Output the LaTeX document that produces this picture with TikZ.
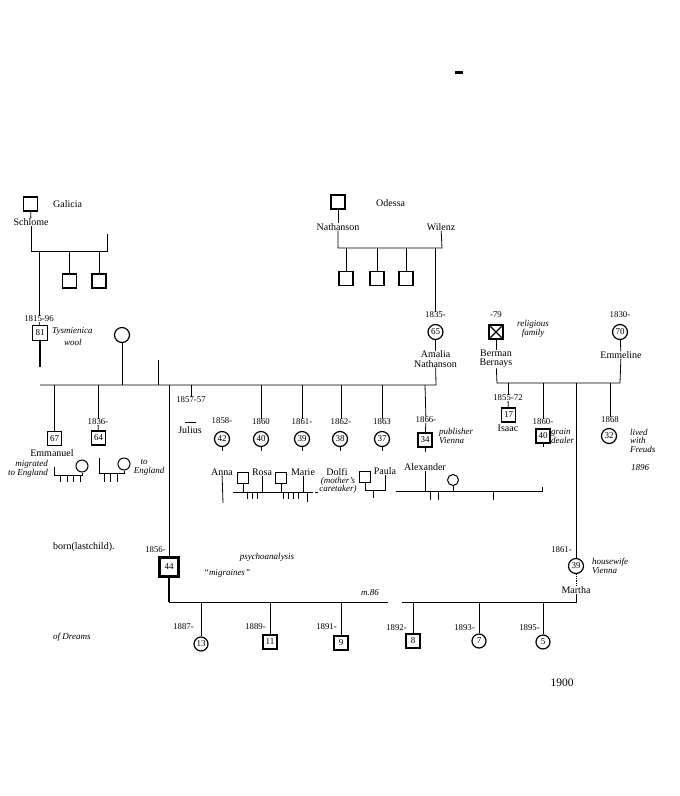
\documentclass[tikz,border=0pt]{standalone}
\usepackage{fontspec}
\setmainfont{Liberation Serif}
\begin{document}
\begin{tikzpicture}[x=1pt,y=-1pt,
  ln/.style={line width=0.8pt},
  male/.style={draw, rectangle, minimum size=14pt, inner sep=0pt, line width=1.1pt, font=\fontsize{9}{9}\selectfont},
  fem/.style={draw, circle, minimum size=15pt, inner sep=0pt, line width=1.2pt, font=\fontsize{9}{9}\selectfont},
  sp/.style={draw, rectangle, minimum size=11pt, inner sep=0pt, line width=1pt},
  spf/.style={draw, circle, minimum size=12pt, inner sep=0pt, line width=1pt},
  nm/.style={inner sep=0pt, align=center, font=\fontsize{10}{9.5}\selectfont},
  yr/.style={inner sep=0pt, font=\fontsize{8.8}{8.8}\selectfont},
  note/.style={inner sep=0pt, align=left, font=\fontsize{9}{8.5}\selectfont\itshape},
  tick/.style={line width=0.8pt}
]
\useasboundingbox (0,0) rectangle (680,796);
\fill (455,71) rectangle (463,74);

% ---------- Galicia / Schlome ----------
\node[male] (gal) at (30.5,204) {};
\node[nm, anchor=west] (galT) at (53,204) {Galicia};
\node[nm] (schl) at (31,222) {Schlome};
\coordinate (gsL) at (31,251);
\coordinate (gsR) at (107,251);
\coordinate (gsU) at (107,234);
\draw[ln] (gal) -- (schl);
\draw[ln] (schl) -- (gsL) -- (gsR) -- (gsU);
\node[male] (g1) at (69.5,281) {};
\node[male] (g2) at (99,281) {};
\draw[ln] (g1) -- (g1 |- gsL);
\draw[ln] (g2) -- (g2 |- gsL);

% ---------- Jacob ----------
\node[yr] (jy) at (39,319) {1815-96};
\node[male, line width=1.8pt, minimum size=15pt] (jac) at (40,333) {81};
\node[note, anchor=west] (tys) at (52,331) {Tysmienica};
\node[note, anchor=west] (wool) at (64,342) {wool};
\draw[ln] (jy.north |- gsL) -- (jy);
\draw[ln] (jy) -- (jac);
\coordinate (jacE) at (40,367);
\draw[line width=1.3pt] (jac) -- (jacE);
\node[fem] (jw1) at (122,335) {};
\coordinate (mL) at (40,385);
\coordinate (mR) at (436,385);
\coordinate (m158) at (158,360);
\draw[ln] (jw1) -- (jw1 |- mL);
\draw[ln] (m158) -- (m158 |- mL);

% ---------- Nathanson / Odessa ----------
\node[male] (nat0) at (338,202) {};
\node[nm, anchor=west] (ode) at (376,203) {Odessa};
\node[nm] (nat) at (338,227) {Nathanson};
\node[nm] (wil) at (441,227) {Wilenz};
\coordinate (nsL) at (338,248);
\coordinate (nsR) at (442,248);
\draw[ln] (nat0) -- (nat);
\draw[ln] (nat) -- (nsL) -- (nsR) -- (wil);
\node[male] (n1) at (346,278.5) {};
\node[male] (n2) at (377,278.5) {};
\node[male] (n3) at (406,278.5) {};
\draw[ln] (n1) -- (n1 |- nsL);
\draw[ln] (n2) -- (n2 |- nsL);
\draw[ln] (n3) -- (n3 |- nsL);

% ---------- Amalia ----------
\node[yr] (ay) at (435.5,315) {1835-};
\node[fem] (ama) at (435.5,332) {65};
\node[nm] (amaT) at (435.5,359) {Amalia\\Nathanson};
\draw[ln] (ay.north |- nsL) -- (ay);
\draw[line width=1.3pt] (ama) -- (amaT);
\draw[ln] (amaT) -- (mR) -- (mL);

% ---------- Bernays ----------
\node[yr] (by) at (496,315) {-79};
\node[male, path picture={\draw (path picture bounding box.north west) -- (path picture bounding box.south east) (path picture bounding box.north east) -- (path picture bounding box.south west);}] (ber) at (496,332) {};
\node[nm] (berT) at (496,359) {Berman\\Bernays};
\node[note, align=center] (rel) at (533,329) {religious\\family};
\node[yr] (ey) at (620,315) {1830-};
\node[fem] (emm) at (620,332) {70};
\node[nm] (emmT) at (621,355) {Emmeline};
\coordinate (bL) at (497,383);
\coordinate (bR) at (620,383);
\draw[ln] (ber) -- (berT);
\draw[ln] (emm) -- (emmT);
\draw[ln] (berT) -- (bL) -- (bR) -- (emmT);

% Bernays children
\node[yr] (iy) at (508,398) {1855-72};
\node[male] (isa) at (508.5,415) {17};
\node[nm] (isaT) at (508,428) {Isaac};
\draw[ln] (iy.north |- bL) -- (iy);
\draw[ln] (iy) -- (isa);
\node[yr] (ely) at (543,422) {1860-};
\node[male] (eli) at (543,436) {40};
\node[note, anchor=west] (grain) at (551,436) {grain\\dealer};
\draw[ln] (ely.north |- bL) -- (ely);
\coordinate (eliE) at (543,447);
\draw[ln] (eli) -- (eliE);
\node[yr, anchor=east] (my) at (572,550) {1861-};
\node[fem] (mar) at (576,566) {39};
\node[note, anchor=west] (hw) at (592,566) {housewife\\Vienna};
\node[nm] (marT) at (576,590) {Martha};
\draw[ln] (mar.north |- bL) -- (mar);
\draw[ln, densely dotted] (mar) -- (marT);
\node[yr] (miy) at (610,420) {1868};
\node[fem] (min) at (609,436) {32};
\node[note, anchor=north west] (lived) at (630,429) {lived\\with\\Freuds};
\node[note, anchor=west] (y96) at (631,468) {1896};
\draw[ln] (miy.north |- bL) -- (miy);

% ---------- Jacob's first marriage children ----------
\node[male] (e67) at (54.5,438.5) {67};
\node[nm] (emT) at (52,453) {Emmanuel};
\node[note, anchor=east, align=right] (mig) at (48,469) {migrated\\to England};
\draw[ln] (e67.north |- mL) -- (e67);
\coordinate (ef1) at (54,467);
\coordinate (ef2) at (54,475);
\coordinate (ef3) at (82,475);
\node[spf] (emw) at (82,466) {};
\draw[ln] (ef1) -- (ef2) -- (ef3) -- (emw);
\foreach \x in {60,67,73,80} \draw[tick] (\x,475) -- (\x,482);

\node[yr] (py) at (98,422) {1836-};
\node[male] (p64) at (98.5,438) {64};
\draw[ln] (py.north |- mL) -- (py);
\draw[ln] (py) -- (p64);
\coordinate (pf1) at (99,458);
\coordinate (pf2) at (99,473);
\coordinate (pf3) at (124,473);
\node[spf] (pw) at (124,464) {};
\draw[ln] (pf1) -- (pf2) -- (pf3) -- (pw);
\foreach \x in {104,110,117} \draw[tick] (\x,473) -- (\x,482);
\node[note] (to) at (144,462) {to};
\node[note] (eng) at (149,471) {England};

% ---------- Amalia's children ----------
\node[yr] (juy) at (191,400) {1857-57};
\draw[ln] (juy.north |- mL) -- (juy);
\coordinate (juA) at (185,422);
\coordinate (juB) at (196,422);
\draw[ln] (juA) -- (juB);
\node[nm] (jul) at (190,430) {Julius};

\node[yr, anchor=east] (sy) at (166,550) {1856-};
\node[draw, rectangle, minimum size=19pt, inner sep=0pt, line width=2.8pt, font=\fontsize{9}{9}\selectfont] (sig) at (169,567) {44};
\draw[ln] (sig.north |- mL) -- (sig);
\node[nm, anchor=west] (born) at (53,547) {born(lastchild).};
\node[note] (psy) at (267,557) {psychoanalysis};
\node[note] (migr) at (227,573) {``migraines''};
\node[note, anchor=west] (dreams) at (53,637) {of Dreams};

\node[yr] (any) at (222,421) {1858-};
\node[fem] (ann) at (222,439) {42};
\node[yr] (roy) at (261,422) {1860};
\node[fem] (ros) at (261,439) {40};
\node[yr] (may) at (302,422) {1861-};
\node[fem] (mari) at (302,439) {39};
\node[yr] (doy) at (341,422) {1862-};
\node[fem] (dol) at (340,439) {38};
\node[yr] (pay) at (382,422) {1863};
\node[fem] (pau) at (382,439) {37};
\node[yr] (aly) at (426,420) {1866-};
\node[male] (ale) at (425,440) {34};
\node[note, anchor=west] (pub) at (439,436) {publisher\\Vienna};
\foreach \n in {roy,may,doy,pay} \draw[ln] (\n.north |- mL) -- (\n);
\draw[ln] (ale.north |- mL) -- (aly);
\draw[ln] (aly) -- (ale);
\foreach \n in {ann,ros,mari,dol,pau,ale} \draw[ln] (\n.south) -- ++(0,4);

% ---------- spouses row ----------
\node[nm] (annT) at (222,472) {Anna};
\coordinate (annE) at (223,503);
\draw[ln] (annT) -- (annE);
\node[sp] (rh) at (243,478) {};
\node[nm] (rosT) at (262,472) {Rosa};
\node[sp] (mh) at (281,478) {};
\node[nm] (marieT) at (303,472) {Marie};
\coordinate (rL) at (233,492);
\coordinate (rR) at (310,492);
\coordinate (rD) at (318,492);
\draw[ln] (rL) -- (rR);
\draw[ln, densely dashed] (rR) -- (rD);
\draw[ln] (rh) -- (rh |- rL);
\draw[ln] (mh) -- (mh |- rL);
\draw[ln] (rosT) -- (rosT |- rL);
\draw[ln] (marieT) -- (marieT |- rL);
\foreach \x in {247,252,257,283,288,293,298} \draw[tick] (\x,492) -- (\x,499);
\draw[tick] (307,492) -- (307,502);
\node[nm] (dolT) at (337,472) {Dolfi};
\node[note, align=center] (care) at (338,485.5) {(mother's\\caretaker)};
\node[sp] (ph) at (365,477) {};
\node[nm] (pauT) at (385,471) {Paula};
\coordinate (pL) at (365,490);
\coordinate (pR) at (385,490);
\draw[ln] (ph) -- (pL) -- (pR) -- (pauT);
\draw[tick] (373,490) -- (373,498);
\node[nm] (aleT) at (425,467) {Alexander};
\node[spf, minimum size=11pt] (aw) at (453,480) {};
\coordinate (aL) at (396,491);
\coordinate (aR) at (542,491);
\coordinate (aU) at (542,487);
\draw[ln] (aL) -- (aR) -- (aU);
\draw[ln] (aleT) -- (aleT |- aL);
\draw[ln] (aw) -- (aw |- aL);
\foreach \x in {430,438,493} \draw[tick] (\x,491) -- (\x,500);

% ---------- Sigmund & Martha's children ----------
\coordinate (fL) at (169,602);
\coordinate (fG1) at (388,602);
\coordinate (fG2) at (402,602);
\coordinate (fR) at (576,602);
\draw[line width=1.5pt] (sig) -- (fL);
\draw[ln] (fL) -- (fG1);
\draw[ln] (fG2) -- (fR) -- (marT);
\node[note] (m86) at (370,593) {m.86};

\node[yr, anchor=east] (c1y) at (194,627) {1887-};
\node[fem, minimum size=14pt] (c1) at (201,644) {13};
\node[yr, anchor=east] (c2y) at (266,627) {1889-};
\node[male] (c2) at (270,642) {11};
\node[yr, anchor=east] (c3y) at (337,627) {1891-};
\node[male] (c3) at (341,643) {9};
\node[yr, anchor=east] (c4y) at (407,628) {1892-};
\node[male] (c4) at (413,641) {8};
\node[yr, anchor=east] (c5y) at (475,628) {1893-};
\node[fem, minimum size=14pt] (c5) at (479,641) {7};
\node[yr, anchor=east] (c6y) at (540,628) {1895-};
\node[fem, minimum size=14pt] (c6) at (543,642) {5};
\foreach \n in {c1,c2,c3,c4,c5,c6} \draw[ln] (\n.north |- fL) -- (\n);

\node[nm, font=\fontsize{11.5}{11.5}\selectfont] (y1900) at (562,683) {1900};
\end{tikzpicture}
\end{document}
